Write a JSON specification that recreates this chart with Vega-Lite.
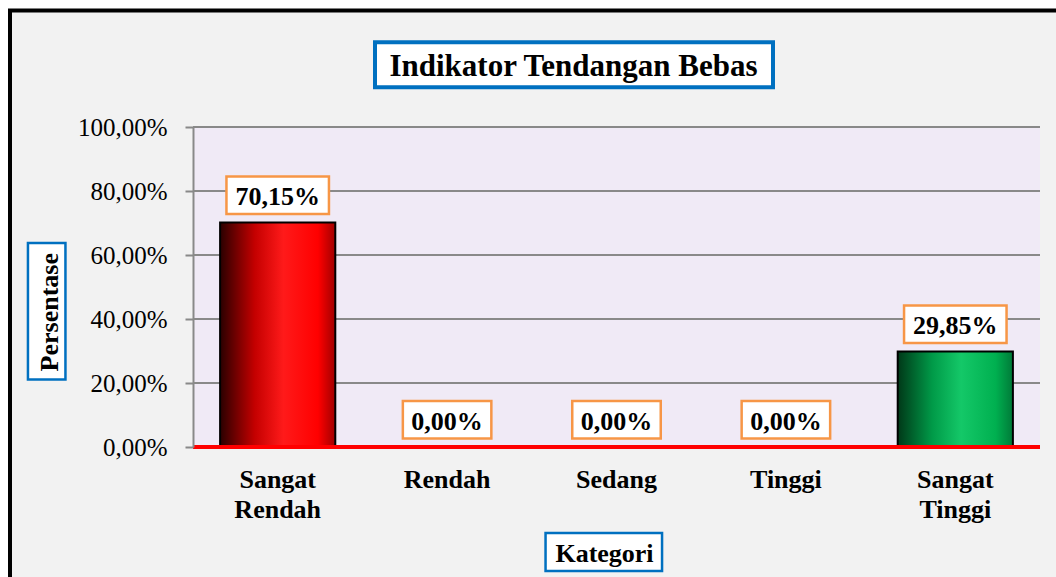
{
  "$schema": "https://vega.github.io/schema/vega-lite/v6.json",
  "width": 847,
  "height": 320,
  "autosize": {"type": "none"},
  "padding": {"left": 193, "top": 127, "right": 16, "bottom": 130},
  "background": "#f2f2f2",
  "config": {
    "font": "Liberation Serif",
    "locale": {"number": {"decimal": ",", "thousands": ".", "grouping": [3], "currency": ["", " €"]}},
    "view": {"fill": "#f0eaf6", "stroke": null}
  },
  "title": {
    "text": "Indikator Tendangan Bebas",
    "font": "Liberation Serif",
    "fontSize": 31,
    "fontWeight": "bold",
    "color": "#000000",
    "anchor": "middle",
    "frame": "group",
    "baseline": "middle",
    "offset": 0,
    "dx": -43,
    "dy": 139
  },
  "datasets": {
    "main": [
      {"kategori": "Sangat Rendah", "persentase": 0.7015},
      {"kategori": "Rendah", "persentase": 0},
      {"kategori": "Sedang", "persentase": 0},
      {"kategori": "Tinggi", "persentase": 0},
      {"kategori": "Sangat Tinggi", "persentase": 0.2985}
    ],
    "grid": [{"t": 0.2}, {"t": 0.4}, {"t": 0.6}, {"t": 0.8}, {"t": 1.0}],
    "one": [{}]
  },
  "layer": [
    {
      "data": {"name": "one"},
      "mark": {"type": "point", "shape": "M-0.2797,-0.448H0.9V0.2H-0.2797Z", "size": 4000000, "filled": false, "stroke": "#ffffff", "strokeWidth": 20, "opacity": 1},
      "encoding": {
        "x": {"datum": "Sangat Rendah", "type": "nominal"},
        "y": {"datum": 0, "type": "quantitative"}
      }
    },
    {
      "data": {"name": "one"},
      "mark": {"type": "point", "shape": "M-0.2677,-0.4365H0.9V0.2H-0.2677Z", "size": 4000000, "filled": false, "stroke": "#000000", "strokeWidth": 4, "opacity": 1},
      "encoding": {
        "x": {"datum": "Sangat Rendah", "type": "nominal"},
        "y": {"datum": 0, "type": "quantitative"}
      }
    },
    {
      "data": {"name": "grid"},
      "mark": {"type": "rule", "stroke": "#898989", "strokeWidth": 2},
      "encoding": {
        "y": {"field": "t", "type": "quantitative"}
      }
    },
    {
      "data": {"name": "main"},
      "mark": {"type": "bar", "stroke": "#000000", "strokeWidth": 2},
      "encoding": {
        "x": {
          "field": "kategori",
          "type": "nominal",
          "scale": {"domain": ["Sangat Rendah", "Rendah", "Sedang", "Tinggi", "Sangat Tinggi"], "paddingInner": 0.32, "paddingOuter": 0.16},
          "axis": {
            "title": "Kategori",
            "titleFont": "Liberation Serif",
            "titleFontSize": 26,
            "titleFontWeight": "bold",
            "titleColor": "#000000",
            "titleX": 411,
            "titleY": 106.7,
            "titleAlign": "center",
            "titleBaseline": "middle",
            "labelFont": "Liberation Serif",
            "labelFontSize": 26,
            "labelFontWeight": "bold",
            "labelColor": "#000000",
            "labelAngle": 0,
            "labelAlign": "center",
            "labelPadding": 19,
            "labelBaseline": "top",
            "labelLineHeight": 30,
            "labelLimit": 300,
            "labelExpr": "indexof(datum.label, ' ') > 0 ? split(datum.label, ' ') : datum.label",
            "domain": false,
            "ticks": false,
            "tickSize": 0,
            "grid": false,
            "zindex": 1
          }
        },
        "y": {
          "field": "persentase",
          "type": "quantitative",
          "scale": {"domain": [0, 1], "nice": false},
          "axis": {
            "title": "Persentase",
            "titleFont": "Liberation Serif",
            "titleFontSize": 26,
            "titleFontWeight": "bold",
            "titleColor": "#000000",
            "titleX": -144,
            "titleY": 184.7,
            "titleAngle": -90,
            "titleAlign": "center",
            "titleBaseline": "middle",
            "format": ".2%",
            "values": [0, 0.2, 0.4, 0.6, 0.8, 1],
            "labelFont": "Liberation Serif",
            "labelFontSize": 25,
            "labelColor": "#000000",
            "labelPadding": 18,
            "ticks": true,
            "tickSize": 8,
            "tickColor": "#898989",
            "tickWidth": 2,
            "domain": true,
            "domainColor": "#898989",
            "domainWidth": 2,
            "grid": false,
            "zindex": 1
          }
        },
        "fill": {
          "condition": {
            "test": "datum.kategori === 'Sangat Rendah'",
            "value": {"gradient": "linear", "x1": 0, "y1": 0, "x2": 1, "y2": 0, "stops": [
              {"offset": 0, "color": "#2a0000"},
              {"offset": 0.3, "color": "#c40000"},
              {"offset": 0.55, "color": "#ff1a1a"},
              {"offset": 0.85, "color": "#ff0000"},
              {"offset": 1, "color": "#a00000"}
            ]}
          },
          "value": {"gradient": "linear", "x1": 0, "y1": 0, "x2": 1, "y2": 0, "stops": [
            {"offset": 0, "color": "#003818"},
            {"offset": 0.3, "color": "#009a48"},
            {"offset": 0.55, "color": "#14c868"},
            {"offset": 0.85, "color": "#00b050"},
            {"offset": 1, "color": "#007a38"}
          ]}
        }
      }
    },
    {
      "data": {"name": "one"},
      "mark": {"type": "rule", "stroke": "#ff0000", "strokeWidth": 4},
      "encoding": {
        "y": {"datum": 0, "type": "quantitative"}
      }
    },
    {
      "data": {"name": "main"},
      "transform": [{"filter": "datum.persentase > 0"}],
      "mark": {"type": "point", "shape": "M-1,-0.366H1V0.366H-1Z", "size": 10506, "filled": true, "fill": "#ffffff", "stroke": "#f79646", "strokeWidth": 2.5, "opacity": 1, "yOffset": -27.2},
      "encoding": {
        "x": {"field": "kategori", "type": "nominal"},
        "y": {"field": "persentase", "type": "quantitative"}
      }
    },
    {
      "data": {"name": "main"},
      "transform": [{"filter": "datum.persentase == 0"}],
      "mark": {"type": "point", "shape": "M-1,-0.4237H1V0.4237H-1Z", "size": 7832, "filled": true, "fill": "#ffffff", "stroke": "#f79646", "strokeWidth": 2.5, "opacity": 1, "yOffset": -27.2},
      "encoding": {
        "x": {"field": "kategori", "type": "nominal"},
        "y": {"field": "persentase", "type": "quantitative"}
      }
    },
    {
      "data": {"name": "main"},
      "mark": {"type": "text", "font": "Liberation Serif", "fontSize": 26, "fontWeight": "bold", "color": "#000000", "baseline": "middle", "align": "center", "yOffset": -25.3},
      "encoding": {
        "x": {"field": "kategori", "type": "nominal"},
        "y": {"field": "persentase", "type": "quantitative"},
        "text": {"field": "persentase", "type": "quantitative", "format": ".2%"}
      }
    },
    {
      "data": {"name": "one"},
      "mark": {"type": "point", "shape": "M-1,-0.1131H1V0.1131H-1Z", "size": 158404, "filled": true, "fill": "#ffffff", "stroke": "#0070c0", "strokeWidth": 4, "opacity": 1, "xOffset": 296.3, "yOffset": -382.3},
      "encoding": {
        "x": {"datum": "Sangat Rendah", "type": "nominal"},
        "y": {"datum": 0, "type": "quantitative"}
      }
    },
    {
      "data": {"name": "one"},
      "mark": {"type": "point", "shape": "M-0.2747,-1H0.2747V1H-0.2747Z", "size": 18632, "filled": true, "fill": "#ffffff", "stroke": "#0070c0", "strokeWidth": 2.5, "opacity": 1, "xOffset": -231, "yOffset": -135.8},
      "encoding": {
        "x": {"datum": "Sangat Rendah", "type": "nominal"},
        "y": {"datum": 0, "type": "quantitative"}
      }
    },
    {
      "data": {"name": "one"},
      "mark": {"type": "point", "shape": "M-1,-0.3262H1V0.3262H-1Z", "size": 13572, "filled": true, "fill": "#ffffff", "stroke": "#0070c0", "strokeWidth": 2.5, "opacity": 1, "xOffset": 326.1, "yOffset": 105},
      "encoding": {
        "x": {"datum": "Sangat Rendah", "type": "nominal"},
        "y": {"datum": 0, "type": "quantitative"}
      }
    }
  ]
}
